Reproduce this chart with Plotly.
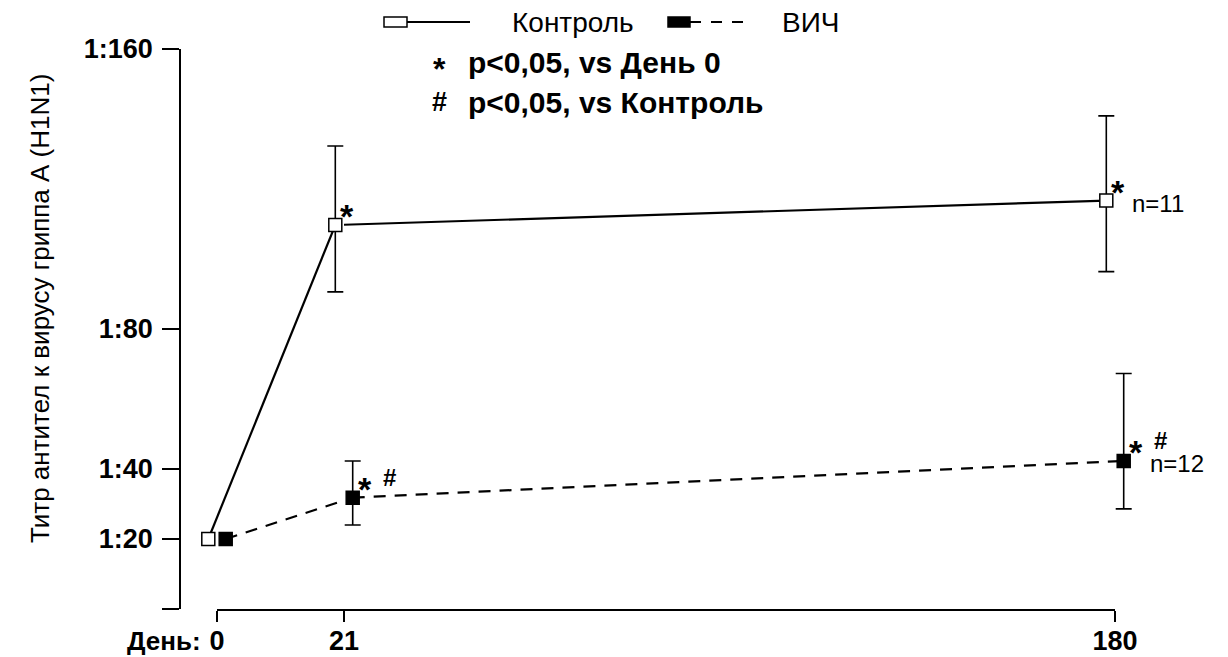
import plotly.graph_objects as go

# ---- data ----
days = [0, 21, 180]
day_labels = ["0", "21", "180"]
control_mean = [20, 109.7, 116.7]
control_upper = [20, 132.3, 140.9]
control_lower = [20, 90.6, 96.4]
hiv_mean = [20, 31.8, 42.3]
hiv_upper = [20, 42.3, 67.3]
hiv_lower = [20, 24.0, 28.6]
y_tickvals = [0, 20, 40, 80, 160]
y_ticktext = ["", "1:20", "1:40", "1:80", "1:160"]
control_n = "n=11"
hiv_n = "n=12"
control_sig = [[], ["*"], ["*"]]
hiv_sig = [[], ["*", "#"], ["*", "#"]]
series_names = ["Контроль", "ВИЧ"]
sig_legend = [("*", "p<0,05, vs День 0"), ("#", "p<0,05, vs Контроль")]

W, H = 1228, 657
def px(x):
    return x / W
def py(y):
    return 1 - y / H

# layout geometry (pixels)
Y_TOP, Y_BOT = 49, 609
Y_AXIS_X = 181
X0, X21, X180 = 217, 344, 1115
PAD_L = X0 - Y_AXIS_X
PAD_R = 40
seg1_scale = (X21 - X0) / (days[1] - days[0])
seg2_scale = (X180 - X21) / (days[2] - days[1])
OFF = 8.7  # px dodge between groups

def pos(day, off_px, seg):
    scale = seg1_scale if seg == 1 else seg2_scale
    return day + off_px / scale

font_main = "Liberation Sans, Arial, sans-serif"
font_narrow = "Liberation Sans Narrow, Arial Narrow, Liberation Sans, sans-serif"

fig = go.Figure()
fig.add_trace(go.Scatter(x=[None], y=[None], xaxis="x", yaxis="y", showlegend=False))
fig.add_trace(go.Scatter(x=[None], y=[None], xaxis="x2", yaxis="y", showlegend=False))

series = [
    dict(mean=control_mean, up=control_upper, lo=control_lower, off=-OFF,
         fill="white", dash="solid", sig=control_sig, n=control_n),
    dict(mean=hiv_mean, up=hiv_upper, lo=hiv_lower, off=OFF,
         fill="black", dash="12px,9px", sig=hiv_sig, n=hiv_n),
]

annotations = []
for s in series:
    fig.add_trace(go.Scatter(
        x=[pos(d, s["off"], 1) for d in days[0:2]], y=s["mean"][0:2],
        xaxis="x3", yaxis="y", mode="lines",
        line=dict(color="black", width=2.2, dash=s["dash"]),
        showlegend=False, hoverinfo="skip"))
    fig.add_trace(go.Scatter(
        x=[pos(d, s["off"], 2) for d in days[1:3]], y=s["mean"][1:3],
        xaxis="x4", yaxis="y", mode="lines",
        line=dict(color="black", width=2.2, dash=s["dash"]),
        showlegend=False, hoverinfo="skip"))
for s in series:
    for i, d in enumerate(days):
        seg = 1 if (d == 0 or (d == 21 and s["off"] < 0)) else 2
        xr = "x3" if seg == 1 else "x4"
        xv = pos(d, s["off"], seg)
        fig.add_trace(go.Scatter(
            x=[xv], y=[s["mean"][i]], xaxis=xr, yaxis="y", mode="markers",
            cliponaxis=False,
            marker=dict(symbol="square", size=13, color=s["fill"],
                        line=dict(color="black", width=1.5)),
            error_y=dict(type="data", symmetric=False,
                         array=[s["up"][i] - s["mean"][i]],
                         arrayminus=[s["mean"][i] - s["lo"][i]],
                         color="black", thickness=1.6, width=8,
                         visible=(s["up"][i] != s["mean"][i])),
            showlegend=False, hoverinfo="skip"))
        for k, ch in enumerate(s["sig"][i]):
            star = ch == "*"
            annotations.append(dict(
                x=xv, y=s["mean"][i], xref=xr, yref="y",
                text="<b>" + ch + "</b>", showarrow=False,
                xanchor="center", yanchor="middle",
                xshift=12 + 25 * k, yshift=9 if star else 20,
                font=dict(family=font_main, size=34 if star else 24, color="black")))
        if i == len(days) - 1:
            annotations.append(dict(
                x=xv, y=s["mean"][i], xref=xr, yref="y", text=s["n"], showarrow=False,
                xanchor="left", yanchor="middle", xshift=24, yshift=-3,
                font=dict(family=font_main, size=24, color="black")))

# axis title & x caption
annotations.append(dict(x=px(40), y=py(309), xref="paper", yref="paper",
                        text="Титр антител к вирусу гриппа А (H1N1)", textangle=-90,
                        showarrow=False, xanchor="center", yanchor="middle",
                        font=dict(family=font_narrow, size=26, color="black")))
annotations.append(dict(x=px(203), y=py(641), xref="paper", yref="paper",
                        text="<b>День:</b>", showarrow=False, xanchor="right", yanchor="middle",
                        font=dict(family=font_main, size=26, color="black")))

# legend (drawn in paper space)
shapes = []
shapes.append(dict(type="line", xref="paper", yref="paper",
                   x0=px(407), x1=px(470), y0=py(22), y1=py(22),
                   line=dict(color="black", width=2)))
shapes.append(dict(type="rect", xref="paper", yref="paper",
                   x0=px(384), x1=px(407), y0=py(17), y1=py(27),
                   fillcolor="white", line=dict(color="black", width=1.5)))
shapes.append(dict(type="line", xref="paper", yref="paper",
                   x0=px(690), x1=px(746), y0=py(22), y1=py(22),
                   line=dict(color="black", width=2, dash="11px,10px")))
shapes.append(dict(type="rect", xref="paper", yref="paper",
                   x0=px(668), x1=px(690), y0=py(17), y1=py(27),
                   fillcolor="black", line=dict(color="black", width=1.5)))
annotations.append(dict(x=px(510), y=py(22), xref="paper", yref="paper",
                        text=series_names[0], showarrow=False, xanchor="left", yanchor="middle",
                        font=dict(family=font_main, size=28, color="black")))
annotations.append(dict(x=px(780), y=py(22), xref="paper", yref="paper",
                        text=series_names[1], showarrow=False, xanchor="left", yanchor="middle",
                        font=dict(family=font_main, size=28, color="black")))
for (sym, txt), yy in zip(sig_legend, [63, 102]):
    star = sym == "*"
    annotations.append(dict(x=px(439), y=py(yy), xref="paper", yref="paper",
                            text="<b>" + sym + "</b>", showarrow=False, xanchor="center",
                            yanchor="middle", yshift=(-6 if star else 0),
                            font=dict(family=font_main, size=32 if star else 27, color="black")))
    annotations.append(dict(x=px(466), y=py(yy), xref="paper", yref="paper",
                            text="<b>" + txt + "</b>", showarrow=False, xanchor="left",
                            yanchor="middle",
                            font=dict(family=font_main, size=30, color="black")))

tickfont = dict(family=font_main, size=27, color="black", weight="bold")
axis_common = dict(showline=True, linecolor="black", linewidth=1.6,
                   ticks="outside", tickwidth=1.6, tickcolor="black",
                   showgrid=False, zeroline=False, tickfont=tickfont)

fig.update_layout(
    width=W, height=H,
    margin=dict(l=0, r=0, t=0, b=0, autoexpand=False),
    paper_bgcolor="white", plot_bgcolor="white",
    showlegend=False,
    xaxis=dict(domain=[px(X0), px(X21)], range=[days[0], days[1]], anchor="y",
               tickvals=days[0:2], ticktext=day_labels[0:2], ticklen=11,
               ticklabelstandoff=-4, **axis_common),
    xaxis2=dict(domain=[px(X21), px(X180)], range=[days[1], days[2]], anchor="y",
                tickvals=days[2:3], ticktext=day_labels[2:3], ticklen=11,
                ticklabelstandoff=-4, **axis_common),
    xaxis3=dict(domain=[px(X0 - PAD_L), px(X21)],
                range=[days[0] - PAD_L / seg1_scale, days[1]], anchor="y", visible=False),
    xaxis4=dict(domain=[px(X21), px(X180 + PAD_R)],
                range=[days[1], days[2] + PAD_R / seg2_scale], anchor="y", visible=False),
    yaxis=dict(domain=[py(Y_BOT), py(Y_TOP)], range=[0, 160], anchor="x3",
               tickvals=y_tickvals, ticktext=y_ticktext,
               ticklen=17, ticklabelstandoff=4, **axis_common),
    shapes=shapes,
    annotations=annotations,
)

fig.write_html("out.html")
